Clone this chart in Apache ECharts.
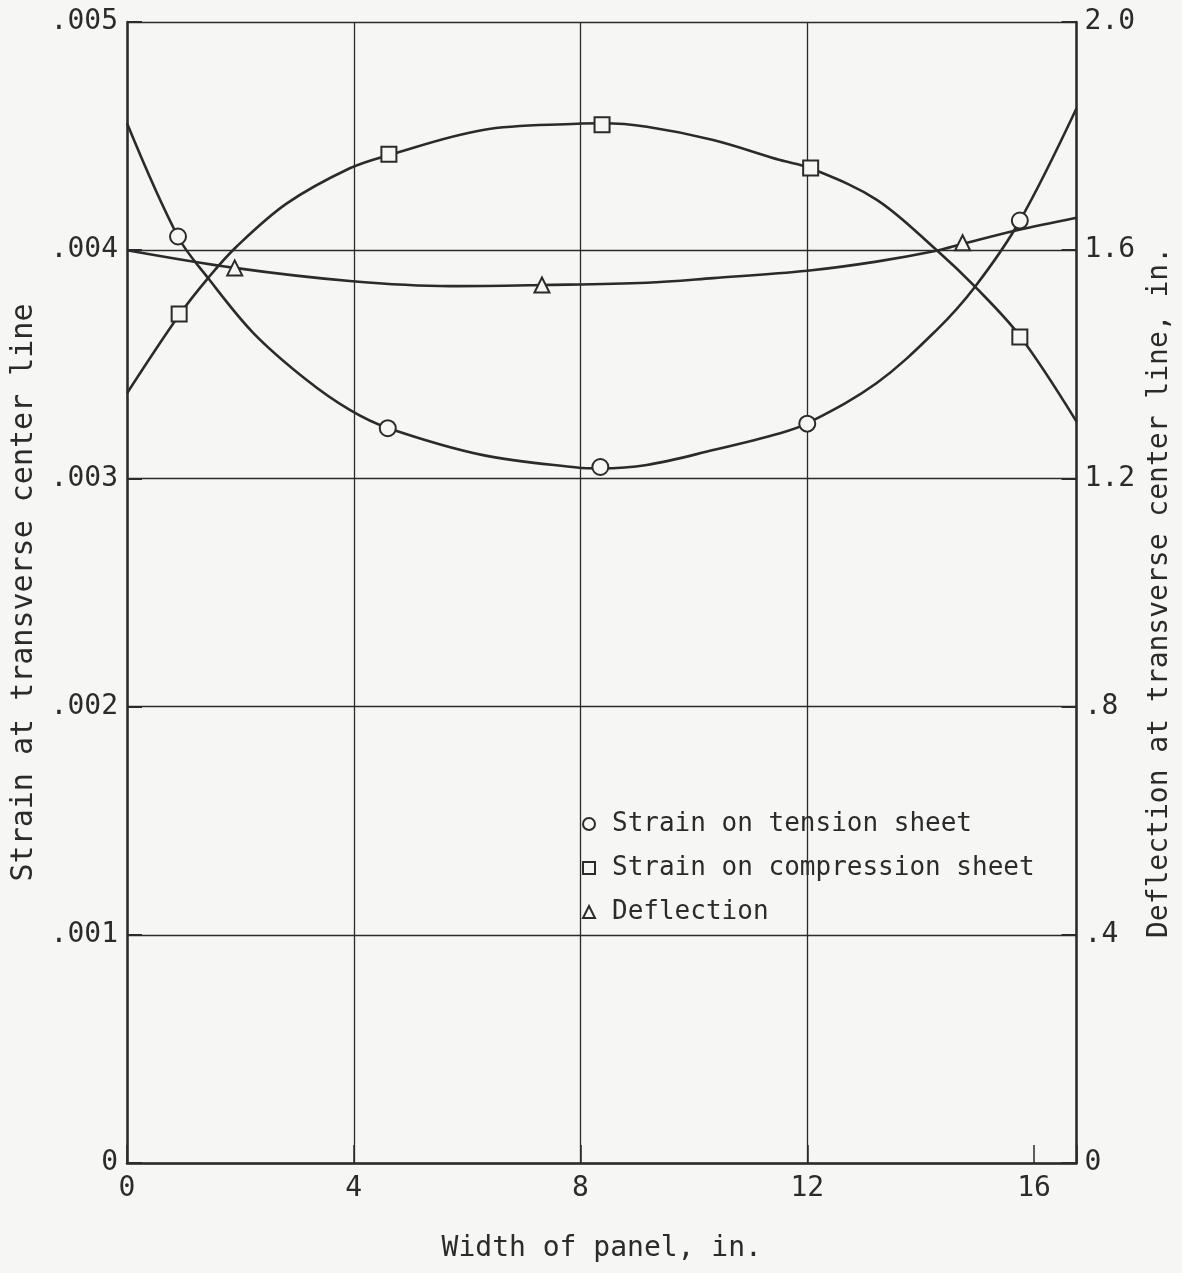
<!DOCTYPE html>
<html>
<head>
<meta charset="utf-8">
<script src="https://cdn.jsdelivr.net/npm/echarts@6/dist/echarts.min.js"></script>
<style>
    html, body { margin: 0; padding: 0; background: #f6f6f4; }
    #chart { width: 1182px; height: 1273px; }
</style>
</head>
<body>
<div id="chart"></div>
<script>
"use strict";

// faired curves (width in., strain / deflection in.)
var tensionCurveX = [0, 0.9, 1.43, 2.23, 3.17, 3.93, 4.6, 6.28, 7.94, 8.35, 9.17, 10.34, 11.52, 12.0, 13.22, 14.28, 14.96, 15.75, 16.75];
var tensionCurveY = [0.004556, 0.004059, 0.003878, 0.003637, 0.003431, 0.003300, 0.003221, 0.003102, 0.003048, 0.003044, 0.003059, 0.003124, 0.003198, 0.003241, 0.003417, 0.003650, 0.003840, 0.004129, 0.004622];

var compressionCurveX = [0, 0.92, 1.43, 1.93, 2.82, 3.93, 4.62, 6.28, 7.94, 8.38, 9.17, 10.34, 11.52, 12.06, 13.22, 14.28, 14.96, 15.75, 16.75];
var compressionCurveY = [0.003373, 0.003716, 0.003878, 0.004015, 0.004205, 0.004359, 0.004417, 0.004527, 0.004554, 0.004556, 0.004541, 0.004483, 0.004395, 0.004359, 0.004222, 0.004001, 0.003840, 0.003624, 0.003249];

var deflectionCurveX = [0, 1.9, 3.93, 5.7, 7.32, 9.17, 10.34, 12.0, 13.22, 14.28, 14.74, 15.7, 16.75];
var deflectionCurveY = [1.600, 1.569, 1.546, 1.537, 1.539, 1.543, 1.551, 1.564, 1.580, 1.599, 1.611, 1.635, 1.657];

// measured points
var tensionX = [0.9, 4.6, 8.35, 12.0, 15.75];
var tensionY = [0.00406, 0.00322, 0.00305, 0.00324, 0.00413];

var compressionX = [0.92, 4.62, 8.38, 12.06, 15.75];
var compressionY = [0.00372, 0.00442, 0.00455, 0.00436, 0.00362];

var deflectionX = [1.9, 7.32, 14.74];
var deflectionY = [1.569, 1.539, 1.613];

// axis ticks
var xTicks = [0, 4, 8, 12, 16];
var strainTicks = [0, 0.001, 0.002, 0.003, 0.004, 0.005];
var strainLabels = ["0", ".001", ".002", ".003", ".004", ".005"];
var deflTicks = [0, 0.4, 0.8, 1.2, 1.6, 2.0];
var deflLabels = ["0", ".4", ".8", "1.2", "1.6", "2.0"];

var legendNames = ["Strain on tension sheet", "Strain on compression sheet", "Deflection"];

(function (window, echarts) {
    var ink = "#2b2b2b";
    var font = "DejaVu Sans Mono";
    var bg = "#f6f6f4";

    var chart = echarts.init(document.querySelector("#chart"));

    var zip = (xs, ys) => xs.map((x, i) => [x, ys[i]]);

    var labelOf = (ticks, labels) => v => {
        var i = ticks.findIndex(t => Math.abs(t - v) < 1e-9);
        return i < 0 ? "" : labels[i];
    };

    // ~catmull-rom handles
    var curve = (name, xs, ys, axis) => ({
        name: name,
        type: "line",
        yAxisIndex: axis,
        smooth: 0.35,
        showSymbol: false,
        symbol: "none",
        silent: true,
        lineStyle: { color: ink, width: 2.6 },
        data: zip(xs, ys),
        z: 2
    });

    var points = (name, symbol, size, xs, ys, axis) => ({
        name: name,
        type: "scatter",
        yAxisIndex: axis,
        symbol: symbol,
        symbolSize: size,
        itemStyle: { color: bg, borderColor: ink, borderWidth: 2, opacity: 1 },
        data: zip(xs, ys),
        z: 5
    });

    var option = {
        backgroundColor: bg,
        animation: false,
        grid: { left: 127, right: 105, top: 22, bottom: 110 },
        legend: {
            orient: "vertical",
            left: 577,
            top: 806,
            itemGap: 18,
            itemWidth: 12,
            itemHeight: 12,
            data: legendNames,
            textStyle: { color: ink, fontFamily: font, fontSize: 26, lineHeight: 26, padding: [0, 0, 0, 12] }
        },
        xAxis: {
            type: "value",
            min: 0,
            max: 16.75,
            interval: 4,
            name: "Width of panel, in.",
            nameLocation: "middle",
            nameGap: 72,
            nameTextStyle: { color: ink, fontFamily: font, fontSize: 28 },
            axisLine: { lineStyle: { color: ink, width: 2.5 } },
            axisTick: { inside: true, length: 18, lineStyle: { color: ink, width: 1.5 } },
            axisLabel: {
                margin: 12,
                color: ink,
                fontFamily: font,
                fontSize: 28,
                formatter: labelOf(xTicks, xTicks.map(String))
            },
            // no full grid line at 16, only the tick
            splitLine: {
                show: true,
                lineStyle: { color: [ink, ink, ink, ink, "rgba(0,0,0,0)", ink], width: 1.3 }
            }
        },
        yAxis: [
            {
                type: "value",
                position: "left",
                min: 0,
                max: 0.005,
                interval: 0.001,
                name: "Strain at transverse center line",
                nameLocation: "middle",
                nameRotate: 90,
                nameGap: 82,
                nameTextStyle: { color: ink, fontFamily: font, fontSize: 30 },
                axisLine: { show: true, lineStyle: { color: ink, width: 2.5 } },
                axisTick: { show: true, inside: true, length: 15, lineStyle: { color: ink, width: 2 } },
                axisLabel: {
                    margin: 9,
                    color: ink,
                    fontFamily: font,
                    fontSize: 28,
                    formatter: labelOf(strainTicks, strainLabels)
                },
                splitLine: { show: true, lineStyle: { color: ink, width: 1.3 } }
            },
            {
                type: "value",
                position: "right",
                min: 0,
                max: 2,
                interval: 0.4,
                name: "Deflection at transverse center line, in.",
                nameLocation: "middle",
                nameRotate: 90,
                nameGap: 69,
                nameTextStyle: { color: ink, fontFamily: font, fontSize: 28 },
                axisLine: { show: true, lineStyle: { color: ink, width: 2.5 } },
                axisTick: { show: true, inside: true, length: 15, lineStyle: { color: ink, width: 2 } },
                axisLabel: {
                    margin: 8,
                    color: ink,
                    fontFamily: font,
                    fontSize: 28,
                    formatter: labelOf(deflTicks, deflLabels)
                },
                splitLine: { show: false }
            }
        ],
        series: [
            curve("tension curve", tensionCurveX, tensionCurveY, 0),
            curve("compression curve", compressionCurveX, compressionCurveY, 0),
            curve("deflection curve", deflectionCurveX, deflectionCurveY, 1),
            points(legendNames[0], "circle", 16, tensionX, tensionY, 0),
            points(legendNames[1], "rect", 15, compressionX, compressionY, 0),
            points(legendNames[2], "triangle", 15, deflectionX, deflectionY, 1)
        ]
    };

    chart.setOption(option);
}(window, echarts));
</script>
</body>
</html>
